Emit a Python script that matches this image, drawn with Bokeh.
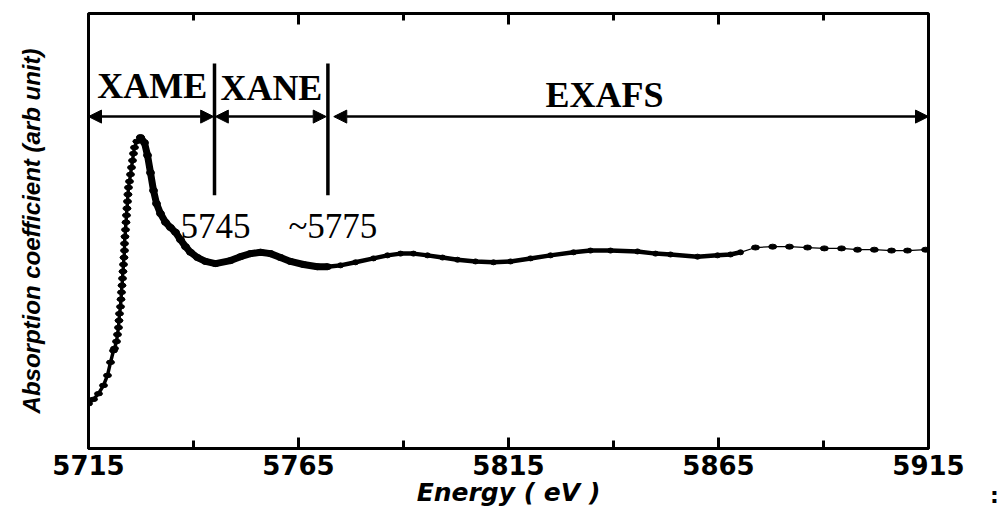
from bokeh.plotting import figure
from bokeh.models import (Range1d, FixedTicker, Arrow, NormalHead, Label, Div)
from bokeh.layouts import row
from bokeh.embed import file_html
from bokeh.resources import INLINE

# ---------------- data ----------------
rise_energy = [5715.0, 5716.19, 5717.38, 5718.57, 5719.52, 5720.24, 5720.95, 5721.19,
               5721.67, 5721.90, 5722.14, 5722.26, 5722.38, 5722.62, 5722.74, 5722.86,
               5722.98, 5723.10, 5723.21, 5723.33, 5723.45, 5723.57, 5723.57, 5723.69,
               5723.81, 5723.93, 5724.05, 5724.17, 5724.29, 5724.40, 5724.52, 5724.76,
               5725.0, 5725.24, 5725.48, 5725.71, 5725.95, 5726.5, 5727.38]
rise_mu = [0.103, 0.113, 0.126, 0.145, 0.168, 0.198, 0.225, 0.230,
           0.246, 0.262, 0.278, 0.294, 0.310, 0.326, 0.343, 0.359,
           0.375, 0.391, 0.407, 0.423, 0.439, 0.455, 0.471, 0.487,
           0.503, 0.520, 0.536, 0.552, 0.568, 0.584, 0.600, 0.614,
           0.630, 0.646, 0.662, 0.678, 0.692, 0.706, 0.715]

xanes_energy = [5727.38, 5728.33, 5729.05, 5729.76, 5730.48, 5731.19, 5732.14, 5733.33,
                5734.52, 5735.71, 5736.90, 5738.10, 5739.29, 5740.95, 5742.86, 5745.24,
                5748.81, 5751.19, 5753.57, 5755.95, 5758.33, 5760.71, 5763.10, 5766.19,
                5769.52, 5771.90]
xanes_mu = [0.715, 0.703, 0.674, 0.634, 0.593, 0.563, 0.540, 0.520,
            0.508, 0.497, 0.480, 0.464, 0.451, 0.439, 0.430, 0.425,
            0.432, 0.441, 0.448, 0.451, 0.448, 0.439, 0.430, 0.423,
            0.418, 0.418]

exafs_energy = [5771.90, 5775.00, 5778.57, 5782.86, 5786.19, 5789.29, 5792.38, 5795.71,
                5799.29, 5802.86, 5807.14, 5811.43, 5815.48, 5820.24, 5825.00, 5830.48,
                5834.52, 5839.29, 5845.71, 5850.00, 5853.57, 5860.00, 5864.76, 5867.86,
                5870.24]
exafs_mu = [0.418, 0.421, 0.428, 0.437, 0.444, 0.448, 0.448, 0.444,
            0.439, 0.434, 0.430, 0.428, 0.430, 0.437, 0.444, 0.451,
            0.455, 0.455, 0.453, 0.448, 0.446, 0.441, 0.444, 0.446,
            0.451]

tail_energy = [5870.24, 5873.8, 5877.9, 5881.9, 5886.2, 5890.2, 5894.3, 5898.1,
               5902.1, 5906.2, 5910.0, 5914.3]
tail_mu = [0.451, 0.462, 0.464, 0.464, 0.462, 0.460, 0.460, 0.457,
           0.457, 0.455, 0.455, 0.457]

major_ticks = [5715, 5765, 5815, 5865, 5915]
minor_ticks = [5740, 5790, 5840, 5890]
tick_labels = ["5715", "5765", "5815", "5865", "5915"]

region_names = ["XAME", "XANE", "EXAFS"]
region_bounds = [5745, 5772]          # vertical separators (eV)
value_labels = ["5745", "~5775"]

# ---------------- figure ----------------
W, H = 982, 510
FL, FT, FW, FH = 88, 13, 840, 435
p = figure(width=W, height=H, output_backend="svg", toolbar_location=None,
           x_range=Range1d(5715, 5915), y_range=Range1d(0, 1),
           min_border_left=FL, min_border_top=FT, min_border_right=W - FL - FW,
           min_border_bottom=H - FT - FH)
p.grid.visible = False
p.outline_line_color = "black"
p.outline_line_width = 3
p.background_fill_color = "white"
p.border_fill_color = "white"

tick_font = "DejaVu Sans"

xa = p.xaxis[0]
xa.ticker = FixedTicker(ticks=major_ticks, minor_ticks=minor_ticks)
xa.major_label_overrides = {t: l for t, l in zip(major_ticks, tick_labels)}
xa.major_tick_in = 11
xa.major_tick_out = 0
xa.minor_tick_in = 8
xa.minor_tick_out = 0
xa.major_tick_line_width = 3
xa.minor_tick_line_width = 3
xa.axis_line_width = 3
xa.major_label_text_font = tick_font
xa.major_label_text_font_style = "bold"
xa.major_label_text_font_size = "26px"
xa.major_label_text_color = "black"
xa.major_label_standoff = 6
xa.axis_label = "Energy ( eV )"
xa.axis_label_text_font = tick_font
xa.axis_label_text_font_style = "bold italic"
xa.axis_label_text_font_size = "25px"
xa.axis_label_text_color = "black"
xa.axis_label_standoff = 0

ya = p.yaxis[0]
ya.ticker = FixedTicker(ticks=[])
ya.major_tick_in = 0
ya.major_tick_out = 0
ya.minor_tick_in = 0
ya.minor_tick_out = 0
ya.axis_line_width = 3
ya.axis_label = "Absorption coefficient (arb unit)"
ya.axis_label_text_font = "Liberation Sans"
ya.axis_label_text_font_style = "bold italic"
ya.axis_label_text_font_size = "24px"
ya.axis_label_text_color = "black"
ya.axis_label_standoff = 44

# ticks on the top edge (mirrors of the bottom ticks)
top_major_len = 11 / FH
top_minor_len = 7 / FH
p.segment(x0=major_ticks, y0=[1] * len(major_ticks), x1=major_ticks,
          y1=[1 - top_major_len] * len(major_ticks), line_color="black", line_width=3)
p.segment(x0=minor_ticks, y0=[1] * len(minor_ticks), x1=minor_ticks,
          y1=[1 - top_minor_len] * len(minor_ticks), line_color="black", line_width=3)

# ---------------- spectrum ----------------
p.line(rise_energy, rise_mu, line_color="black", line_width=3.5)
p.ellipse(rise_energy, rise_mu, width=8, height=4.5, width_units="screen",
          height_units="screen", fill_color="black", line_color="black")

p.line(xanes_energy, xanes_mu, line_color="black", line_width=7)
p.ellipse(xanes_energy, xanes_mu, width=8, height=6, width_units="screen",
          height_units="screen", fill_color="black", line_color="black")

p.line(exafs_energy, exafs_mu, line_color="black", line_width=4.5)
p.ellipse(exafs_energy, exafs_mu, width=6, height=5, width_units="screen",
          height_units="screen", fill_color="black", line_color="black")

p.line(tail_energy, tail_mu, line_color="black", line_width=1.2)
p.ellipse(tail_energy[1:], tail_mu[1:], width=8, height=5, width_units="screen",
          height_units="screen", fill_color="black", line_color="black")

# ---------------- region annotations ----------------
sep_top, sep_bot = 0.885, 0.582
p.segment(x0=region_bounds, y0=[sep_bot] * 2, x1=region_bounds, y1=[sep_top] * 2,
          line_color="black", line_width=3.5)

arrow_y = 0.763
x_lo, x_hi = p.x_range.start, p.x_range.end
spans = [(x_lo, region_bounds[0] - 0.2),
         (region_bounds[0] + 0.2, region_bounds[1] - 0.4),
         (region_bounds[1] + 1.4, x_hi)]
for a, b in spans:
    p.add_layout(Arrow(start=NormalHead(size=13, fill_color="black", line_color="black"),
                       end=NormalHead(size=13, fill_color="black", line_color="black"),
                       x_start=a, y_start=arrow_y, x_end=b, y_end=arrow_y,
                       line_width=2.5, line_color="black"))

serif = "Liberation Serif"
name_pos = [(5717.1, 0.833, "36px"), (5746.4, 0.829, "36px"), (5823.8, 0.813, "36px")]
for name, (x, y, fs) in zip(region_names, name_pos):
    p.add_layout(Label(x=x, y=y, text=name, text_font=serif, text_font_style="bold",
                       text_font_size=fs, text_baseline="alphabetic", text_color="black"))

val_pos = [(5736.9, 0.511), (5762.6, 0.511)]
for t, (x, y) in zip(value_labels, val_pos):
    p.add_layout(Label(x=x, y=y, text=t, text_font=serif, text_font_size="35px",
                       text_baseline="alphabetic", text_color="black"))

# stray colon at the lower right of the original picture
colon = Div(text=":", width=14, height=H,
            styles={"padding-top": "480px", "padding-left": "3px",
                    "font-family": "DejaVu Sans",
                    "font-weight": "bold", "font-size": "22px", "line-height": "22px",
                    "color": "black"})

layout = row(p, colon, spacing=0)
open("out.html", "w").write(file_html(layout, INLINE))
